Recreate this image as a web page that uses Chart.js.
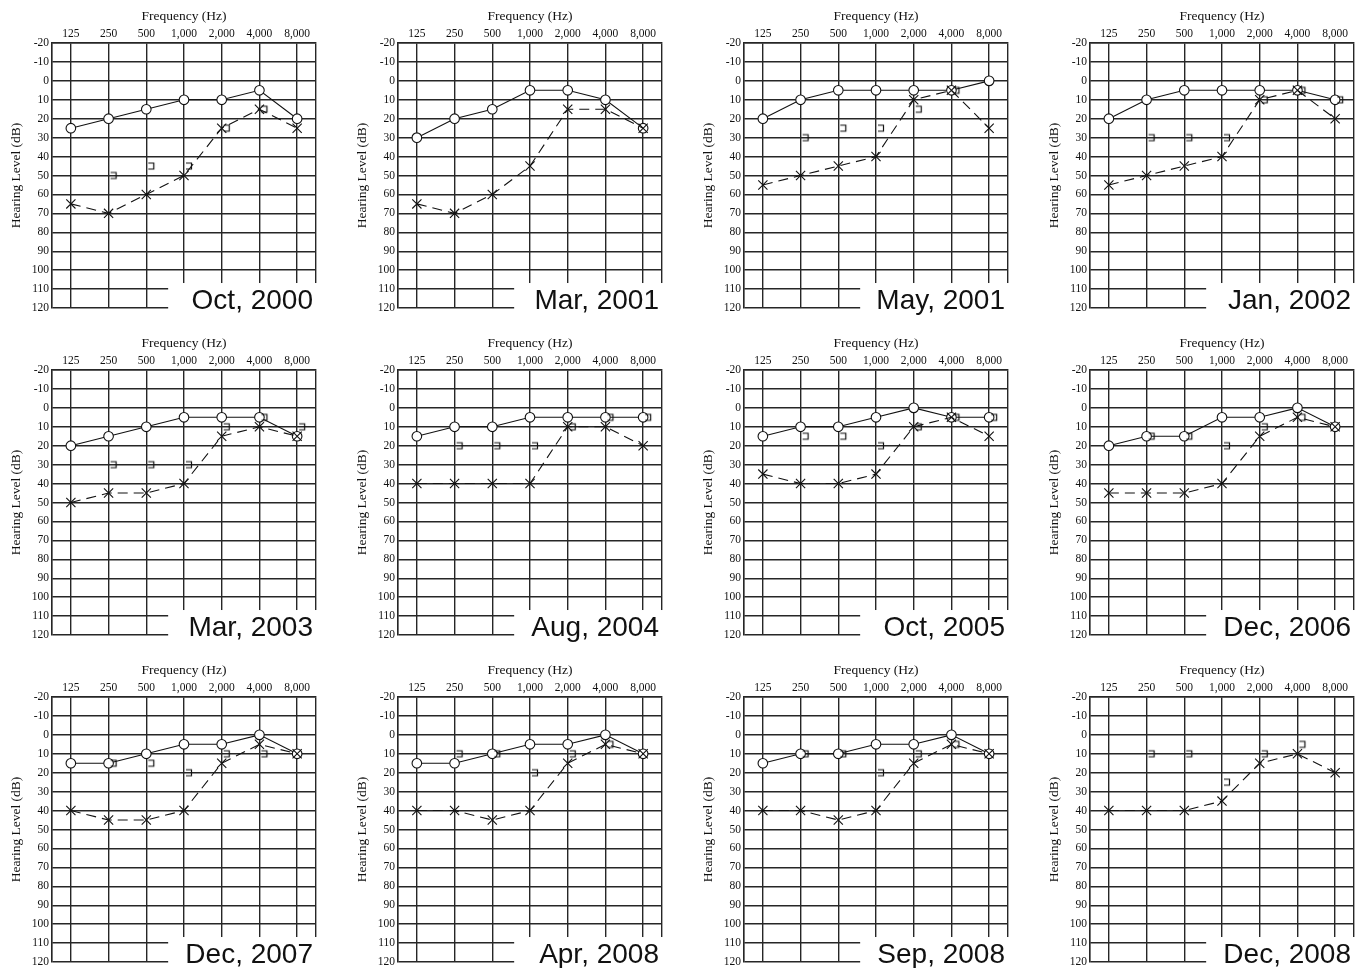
<!DOCTYPE html>
<html>
<head>
<meta charset="utf-8">
<script src="https://cdn.jsdelivr.net/npm/chart.js@4.4.1/dist/chart.umd.min.js"></script>
<style>
  html, body { margin: 0; padding: 0; background: #fff; overflow: hidden; }
  #grid { position: relative; width: 1363px; height: 968px; }
  #grid canvas { position: absolute; }
</style>
</head>
<body>
<div id="grid"></div>
<script>
// frequencies along the top, hearing level down the side
const freqLabels = ['125', '250', '500', '1,000', '2,000', '4,000', '8,000'];
const levelTicks = [-20, -10, 0, 10, 20, 30, 40, 50, 60, 70, 80, 90, 100, 110, 120];

const testDates = ['Oct, 2000', 'Mar, 2001', 'May, 2001', 'Jan, 2002',
                   'Mar, 2003', 'Aug, 2004', 'Oct, 2005', 'Dec, 2006',
                   'Dec, 2007', 'Apr, 2008', 'Sep, 2008', 'Dec, 2008'];

// right ear, air conduction (O, solid line)
const rightAir = [
  [25, 20, 15, 10, 10, 5, 20],
  [30, 20, 15, 5, 5, 10, 25],
  [20, 10, 5, 5, 5, 5, 0],
  [20, 10, 5, 5, 5, 5, 10],
  [20, 15, 10, 5, 5, 5, 15],
  [15, 10, 10, 5, 5, 5, 5],
  [15, 10, 10, 5, 0, 5, 5],
  [20, 15, 15, 5, 5, 0, 10],
  [15, 15, 10, 5, 5, 0, 10],
  [15, 15, 10, 5, 5, 0, 10],
  [15, 10, 10, 5, 5, 0, 10],
  [null, null, null, null, null, null, null]
];

// left ear, air conduction (X, dashed line)
const leftAir = [
  [65, 70, 60, 50, 25, 15, 25],
  [65, 70, 60, 45, 15, 15, 25],
  [55, 50, 45, 40, 10, 5, 25],
  [55, 50, 45, 40, 10, 5, 20],
  [50, 45, 45, 40, 15, 10, 15],
  [40, 40, 40, 40, 10, 10, 20],
  [35, 40, 40, 35, 10, 5, 15],
  [45, 45, 45, 40, 15, 5, 10],
  [40, 45, 45, 40, 15, 5, 10],
  [40, 40, 45, 40, 15, 5, 10],
  [40, 40, 45, 40, 15, 5, 10],
  [40, 40, 40, 35, 15, 10, 20]
];

// left ear, masked bone conduction (])
const leftBone = [
  [null, 50, 45, 45, 25, 15, null],
  [null, null, null, null, null, null, null],
  [null, 30, 25, 25, 15, 5, null],
  [null, 30, 30, 30, 10, 5, 10],
  [null, 30, 30, 30, 10, 5, 10],
  [null, 20, 20, 20, 10, 5, 5],
  [null, 15, 15, 20, 10, 5, 5],
  [null, 15, 15, 20, 10, 5, null],
  [null, 15, 15, 20, 10, 10, null],
  [null, 10, 10, 20, 10, 5, null],
  [null, 10, 10, 20, 10, 5, null],
  [null, 10, 10, 25, 10, 5, null]
];

const ink = '#111';
const gridColor = '#262626';
const serif = "'Liberation Serif', 'Times New Roman', serif";
const colX = [0, 346, 692, 1038];
const rowY = [0, 327, 654];

// the ] symbol, drawn a little to the right of its frequency
function makeBracket() {
  const c = document.createElement('canvas');
  c.width = 24; c.height = 14;
  const g = c.getContext('2d');
  g.strokeStyle = ink;
  g.lineWidth = 1.2;
  g.beginPath();
  g.moveTo(14, 4);
  g.lineTo(19.5, 4);
  g.lineTo(19.5, 10);
  g.lineTo(14, 10);
  g.stroke();
  return c;
}
const bracketImg = makeBracket();

const toPoints = arr => arr.map((v, k) => ({ x: k, y: v })).filter(p => p.y !== null);

// blank out the lower right corner of the grid and put the date there
const panelPlugin = {
  id: 'panel',
  beforeDatasetsDraw(chart) {
    const { ctx, scales } = chart;
    const cx = scales.x.getPixelForValue(2.58);
    const cy = scales.y.getPixelForValue(106.8);
    ctx.save();
    ctx.fillStyle = '#fff';
    ctx.fillRect(cx, cy, chart.width - cx, chart.height - cy);
    ctx.restore();
  },
  afterDraw(chart, args, opts) {
    const { ctx, chartArea } = chart;
    ctx.save();
    ctx.fillStyle = ink;
    ctx.font = "28px 'Liberation Sans', Arial, sans-serif";
    ctx.textAlign = 'right';
    ctx.textBaseline = 'alphabetic';
    ctx.fillText(opts.date, chartArea.right - 3, chartArea.bottom + 1);
    ctx.restore();
  }
};

const grid = document.getElementById('grid');

testDates.forEach((date, i) => {
  const canvas = document.createElement('canvas');
  canvas.width = 325;
  canvas.height = 318;
  canvas.style.left = colX[i % 4] + 'px';
  canvas.style.top = rowY[Math.floor(i / 4)] + 'px';
  grid.appendChild(canvas);

  new Chart(canvas, {
    type: 'line',
    data: {
      datasets: [
        {
          label: 'Left air',
          data: toPoints(leftAir[i]),
          borderColor: ink,
          borderWidth: 1.1,
          borderDash: [10, 6],
          tension: 0,
          fill: false,
          pointStyle: 'crossRot',
          pointRadius: 6.5,
          pointBorderWidth: 1.1,
          pointBorderColor: ink,
          pointBackgroundColor: 'transparent'
        },
        {
          label: 'Left bone',
          data: toPoints(leftBone[i]),
          showLine: false,
          pointStyle: bracketImg,
          pointRadius: 5
        },
        {
          label: 'Right air',
          data: toPoints(rightAir[i]),
          borderColor: ink,
          borderWidth: 1.1,
          tension: 0,
          fill: false,
          pointStyle: 'circle',
          pointRadius: 4.8,
          pointBorderWidth: 1.1,
          pointBorderColor: ink,
          pointBackgroundColor: '#fff'
        }
      ]
    },
    options: {
      responsive: false,
      animation: false,
      devicePixelRatio: 1,
      layout: { padding: { left: 0, top: 0, right: 9, bottom: 10 } },
      plugins: {
        legend: { display: false },
        tooltip: { enabled: false },
        panel: { date: date }
      },
      scales: {
        x: {
          type: 'linear',
          position: 'top',
          min: -0.5,
          max: 6.5,
          afterBuildTicks: s => {
            s.ticks = [-0.5, 0, 1, 2, 3, 4, 5, 6, 6.5].map(v => ({ value: v }));
          },
          afterFit: s => { s.height = 43; },
          grid: { color: gridColor, lineWidth: 1.4, drawTicks: false },
          border: { color: gridColor, width: 1.4 },
          ticks: {
            autoSkip: false,
            maxRotation: 0,
            padding: 2,
            color: ink,
            font: { family: serif, size: 11.5 },
            callback: v => Number.isInteger(v) ? freqLabels[v] : ''
          },
          title: {
            display: true,
            text: 'Frequency (Hz)',
            color: ink,
            font: { family: serif, size: 13.5 },
            padding: { top: 8, bottom: 0 }
          }
        },
        y: {
          type: 'linear',
          position: 'left',
          reverse: true,
          min: -20,
          max: 120,
          afterBuildTicks: s => {
            s.ticks = levelTicks.map(v => ({ value: v }));
          },
          afterFit: s => { s.width = 52; },
          grid: { color: gridColor, lineWidth: 1.4, drawTicks: false },
          border: { color: gridColor, width: 1.4 },
          ticks: {
            autoSkip: false,
            padding: 3,
            color: ink,
            font: { family: serif, size: 11.5 },
            callback: v => String(v)
          },
          title: {
            display: true,
            text: 'Hearing Level (dB)',
            color: ink,
            font: { family: serif, size: 13.5 },
            padding: { top: 8, bottom: 0 }
          }
        }
      }
    },
    plugins: [panelPlugin]
  });
});
</script>
</body>
</html>
